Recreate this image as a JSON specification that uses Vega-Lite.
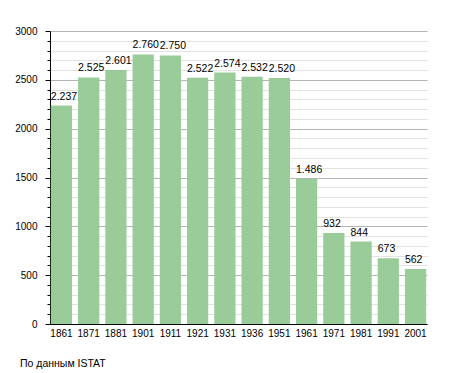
{
  "$schema": "https://vega.github.io/schema/vega-lite/v6.json",
  "width": 377,
  "height": 293,
  "autosize": {"type": "none"},
  "padding": {"left": 50, "top": 31, "right": 28, "bottom": 49},
  "background": "white",
  "config": {"view": {"stroke": null}, "font": "Liberation Sans"},
  "title": {"text": "По данным  ISTAT", "orient": "bottom", "anchor": "start", "frame": "group", "fontSize": 10.5, "fontWeight": "normal", "color": "#000", "offset": 21, "dx": -30, "font": "Liberation Sans"},
  "data": {"values": [
    {"year": "1861", "pop": 2237, "label": "2.237"},
    {"year": "1871", "pop": 2525, "label": "2.525"},
    {"year": "1881", "pop": 2601, "label": "2.601"},
    {"year": "1901", "pop": 2760, "label": "2.760"},
    {"year": "1911", "pop": 2750, "label": "2.750"},
    {"year": "1921", "pop": 2522, "label": "2.522"},
    {"year": "1931", "pop": 2574, "label": "2.574"},
    {"year": "1936", "pop": 2532, "label": "2.532"},
    {"year": "1951", "pop": 2520, "label": "2.520"},
    {"year": "1961", "pop": 1486, "label": "1.486"},
    {"year": "1971", "pop": 932, "label": "932"},
    {"year": "1981", "pop": 844, "label": "844"},
    {"year": "1991", "pop": 673, "label": "673"},
    {"year": "2001", "pop": 562, "label": "562"}
  ]},
  "encoding": {
    "x": {"field": "year", "type": "ordinal", "sort": null,
      "scale": {"paddingInner": 0.22, "paddingOuter": 0.03},
      "axis": {"title": null, "labelAngle": 0, "ticks": false, "domainColor": "#000", "labelFontSize": 10, "labelColor": "#000", "labelPadding": 4}},
    "y": {"field": "pop", "type": "quantitative",
      "scale": {"domain": [0, 3000], "nice": false},
      "axis": {"title": null,
        "values": [0,100,200,300,400,500,600,700,800,900,1000,1100,1200,1300,1400,1500,1600,1700,1800,1900,2000,2100,2200,2300,2400,2500,2600,2700,2800,2900,3000],
        "labelExpr": "datum.value % 500 === 0 ? datum.value : ''",
        "grid": true,
        "gridColor": {"condition": {"test": "datum.value % 500 === 0", "value": "#b4b4b4"}, "value": "#e2e2e2"},
        "tickSize": {"condition": {"test": "datum.value % 500 === 0", "value": 5}, "value": 3},
        "tickColor": "#000",
        "domainColor": "#000",
        "labelFontSize": 10, "labelColor": "#000", "labelPadding": 8, "labelFlush": false}}
  },
  "layer": [
    {"mark": {"type": "bar", "color": "#99cc99"}},
    {"mark": {"type": "text", "align": "left", "baseline": "bottom", "dy": -4, "fontSize": 10.5, "color": "#000"},
      "encoding": {"x": {"field": "year", "type": "ordinal", "sort": null, "bandPosition": 0}, "text": {"field": "label"}}}
  ]
}
